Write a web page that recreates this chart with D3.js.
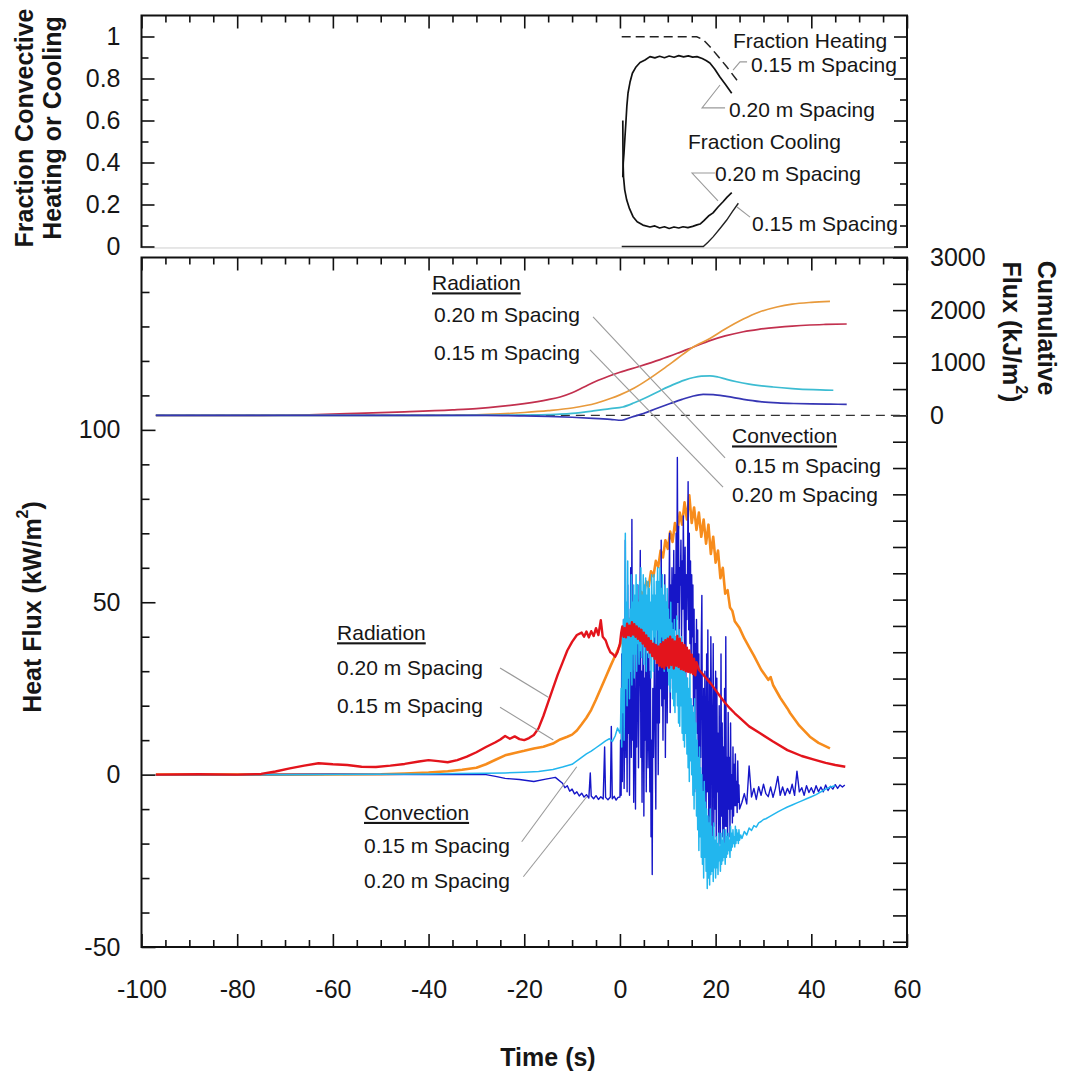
<!DOCTYPE html>
<html><head><meta charset="utf-8">
<script src="https://cdn.jsdelivr.net/npm/d3@7"></script>
<style>
body{margin:0;background:#fff;}
svg text{font-family:"Liberation Sans",Arial,Helvetica,sans-serif;fill:#161616;}
</style></head><body>
<svg id="chart" width="1065" height="1072"></svg>
<script>
// ---------------- DATA ----------------
// tick values
const timeMajor=[-100,-80,-60,-40,-20,0,20,40,60];
const timeMinor=[-95,-90,-85,-75,-70,-65,-55,-50,-45,-35,-30,-25,-15,-10,-5,5,10,15,25,30,35,45,50,55];
const fluxMajor=[-50,0,50,100];
const fluxMinor=[-40,-30,-20,-10,10,20,30,40,60,70,80,90,110,120,130,140];
const cumTicks=[-10000,-9500,-9000,-8500,-8000,-7500,-7000,-6500,-6000,-5500,-5000,-4500,-4000,-3500,-3000,-2500,-2000,-1500,-1000,-500,0,500,1000,1500,2000,2500,3000];
const cumLabels=[0,1000,2000,3000];
const fracMajor=[0,0.2,0.4,0.6,0.8,1];
const fracMinor=[0.1,0.3,0.5,0.7,0.9];

// top panel: fraction of convective heating / cooling  [time s, fraction]
const heating015=[[0.37,0.999],[16.05,0.999],[17.4,0.985],[18.83,0.951],[20.5,0.906],[22.32,0.856],[24.69,0.785]];
const heating020=[[0.6,0.33],[0.7,0.40],[0.85,0.445],[1.05,0.52],[1.27,0.60],[1.45,0.67],[1.69,0.731],[2.1,0.782],[2.6,0.825],[3.36,0.855],[4.2,0.876],[5.24,0.888],[6.28,0.904],[7.3,0.898],[8.3,0.906],[9.3,0.899],[10.3,0.907],[11.3,0.901],[12.3,0.909],[13.3,0.903],[14.3,0.908],[15.2,0.902],[16.1,0.904],[17.2,0.895],[18.0,0.886],[18.8,0.874],[19.8,0.845],[20.9,0.807],[22.1,0.770],[23.36,0.730]];
const cooling020=[[0.6,0.60],[0.62,0.50],[0.66,0.40],[0.75,0.331],[1.0,0.27],[1.42,0.221],[2.0,0.18],[2.74,0.142],[3.6,0.118],[4.8,0.102],[6.29,0.093],[7.3,0.098],[8.3,0.088],[9.3,0.094],[10.3,0.086],[11.3,0.093],[12.3,0.088],[13.2,0.094],[14.2,0.090],[15.2,0.096],[16.1,0.103],[16.74,0.107],[17.5,0.122],[18.5,0.145],[19.46,0.160],[20.5,0.188],[21.55,0.213],[22.4,0.235],[23.37,0.256]];
const cooling015=[[0.37,0.0],[17.43,0.0],[18.4,0.02],[19.52,0.047],[21.0,0.088],[22.32,0.126],[23.5,0.166],[24.75,0.206]];

// bottom panel: heat flux (kW/m2)  [time s, flux]
const radiation020=[[-97,0],[-88,0.1],[-80,0],[-75,0.2],[-72,0.9],[-69,1.8],[-66,2.6],[-63,3.3],[-60,3.0],[-57,2.8],[-54,2.3],[-51,2.2],[-48,2.6],[-45,3.1],[-42,3.8],[-40,4.2],[-38,3.9],[-36,3.6],[-34,4.2],[-32,5.2],[-30,6.5],[-28,8],[-26,9.4],[-25,10.2],[-24,11.2],[-23,10.4],[-22,11.1],[-21,10.3],[-20,10.0],[-19,10.6],[-18,11.5],[-17,13.5],[-16,17],[-15,21],[-14,25],[-13,29],[-12,32.5],[-11,36],[-10,38.5],[-9,40.5],[-8,41.2],[-7.5,40],[-7,41.5],[-6.5,39.8],[-6,41.6],[-5.5,40.2],[-5,42.5],[-4.5,40.5],[-4,44.8],[-3.6,40],[-3,39],[-2.5,37],[-2,35.5],[-1.5,35],[-1,34.2],[-0.5,35.5],[0,38],[0.25,41],[0.5,43],[0.75,40],[1,42.5],[1.25,39.8],[1.5,43.8],[1.75,40.5],[2,43.2],[2.25,40.2],[2.5,44.2],[2.75,40.6],[3,43.6],[3.25,40],[3.5,43],[3.75,39.4],[4,42.4],[4.25,38.8],[4.5,42],[4.75,38],[5,41.2],[5.25,37.2],[5.5,40.4],[5.75,36.2],[6,39.6],[6.25,35.4],[6.5,38.8],[6.75,34.4],[7,38],[7.25,33.6],[7.5,37.6],[7.75,32.4],[8,37.2],[8.25,31.6],[8.5,37.8],[8.75,31.2],[9,38.4],[9.25,30.8],[9.5,39],[9.75,31.6],[10,39.4],[10.25,31],[10.5,40],[10.75,31.8],[11,39.2],[11.25,30.8],[11.5,38.6],[11.75,31.6],[12,40.2],[12.25,31.2],[12.5,39.4],[12.75,30.6],[13,38.2],[13.25,30.4],[13.5,37.6],[13.75,30],[14,36.8],[14.25,29.8],[14.5,36],[14.75,29.6],[15,34.8],[15.25,29.2],[15.5,33.6],[15.75,28.8],[16,32.6],[16.5,30.4],[17,29.6],[17.5,28.8],[18,28],[19,26.4],[20,24.5],[21,22.6],[22,20.8],[23,19.2],[24,17.8],[25,16.5],[27,14],[29.3,12],[32,9.6],[35,7.1],[38,5.4],[40.4,4.4],[43,3.4],[45,2.8],[47.1,2.3]];
const radiation015=[[-97,0],[-70,0],[-50,0.1],[-45,0.3],[-40,0.6],[-36,1],[-33,1.4],[-30,2],[-28,3],[-26,4.3],[-24,5.6],[-22,6.3],[-20,6.9],[-18,7.6],[-16,8.1],[-14,9],[-12.5,10.2],[-11,11],[-10,11.6],[-9,12.8],[-8,14.6],[-7,16.5],[-6,18.8],[-5,21.8],[-4,25],[-3,28.2],[-2,31.4],[-1,34.5],[0,37.5],[0.5,39.5],[1,41],[1.5,43],[2,44.5],[2.5,46.2],[3,47.5],[3.5,50],[4,49.2],[4.5,53],[5,52],[5.5,56],[6,54.5],[6.5,59],[7,57.5],[7.5,62],[8,60.2],[8.5,65],[9,63],[9.5,68],[10,65.5],[10.5,70.5],[11,67.5],[11.5,73],[12,70],[12.5,76],[13,72.5],[13.5,79],[14,74],[14.5,81],[15,73],[15.5,77.5],[16,71],[16.5,76],[17,69],[17.5,74],[18,67],[18.5,72.5],[19,64],[19.5,69],[20,61.5],[20.5,65],[21,57],[21.5,60],[22,52.5],[22.5,53.5],[23,48.5],[23.5,47.5],[24,44.5],[25,42.5],[26,39.5],[27,37],[28,34.5],[29.5,30.5],[31,27.5],[31.5,28.3],[32,26],[33.5,22.3],[35,19.2],[35.6,17.8],[37.5,14.2],[39.7,11],[41.5,9.2],[43.9,7.6]];

// convection, 0.15 m spacing (cyan): before, noisy burst (every 0.125 s from 0.125 s), after
const convection015Before=[[-97,0],[-70,0],[-50,0.1],[-40,0.2],[-34,0.3],[-28,0.4],[-24,0.5],[-20,0.7],[-17,0.9],[-14,1.5],[-12,2.2],[-10,3],[-8.5,4.5],[-7,6],[-6,6.8],[-5,7.8],[-4,8.8],[-3,9.8],[-2.2,10.4],[-1.6,9.6],[-1,11.2],[-0.5,13.5],[0,12]];
const convection015Burst=[
 14,25,8,40,18,45,10,30,   70,25,50,20,62,28,45,22,   48,30,58,26,50,35,55,28,   52,35,58,30,55,38,50,32,
 56,36,60,34,52,40,58,32,  55,38,57,30,52,40,56,34,   54,38,50,28,58,42,52,30,   58,40,52,35,56,42,60,36,
 56,36,60,38,54,40,58,36,  52,30,55,34,50,32,54,30,   48,26,45,24,50,28,44,22,   42,20,45,18,40,24,46,20,
 38,15,42,14,36,20,40,12,  35,10,30,8,33,12,28,6,     28,2,25,-2,30,4,22,0,      20,-6,18,-10,22,-4,15,-12,
 10,-16,5,-22,8,-18,2,-24, 0,-26,-5,-30,-2,-24,-8,-28, -10,-33,-12,-30,-14,-32,-10,-29, -15,-28,-18,-31,-14,-27,-19,-30,
 -18,-27,-20,-29,-17,-25,-21,-28, -17,-26,-19,-25,-16,-24,-20,-26, -16,-24,-18,-23,-17,-22,-19,-24, -15,-22,-17,-21,-16,-20,-18,-21,
 -15,-20,-16,-19,-17,-20,-16,-19];
const convection015After=[[25.25,-17.5],[25.5,-18.5],[26,-16.5],[26.5,-17.5],[27,-15.5],[27.5,-16.2],[28,-14.8],[28.5,-15.2],[29,-14],[29.5,-13.6],[30,-13],[30.5,-12.8],[31,-12.4],[32,-11.6],[33,-10.8],[34,-10.1],[35,-9.4],[36,-8.8],[37,-8.2],[38,-7.6],[39,-7],[40,-6.4],[41,-5.8],[42,-5],[43,-4.2],[44,-3.6],[45,-3.2]];

// convection, 0.20 m spacing (dark blue)
const convection020Before=[[-97,0],[-80,0],[-60,0.1],[-40,0],[-28,0],[-26,-0.5],[-24,-1.1],[-21,-1.4],[-18,-2],[-15.5,-1.3],[-13.5,-0.8],[-12,-2.5],[-11.5,-3.8],[-11,-3.2],[-10.5,-4.8],[-10,-4.2],[-9.5,-5.6],[-9,-5],[-8.5,-6.2],[-8,-5.4],[-7.5,-6.5],[-7,-5.8],[-6.5,-6.8],[-6.2,0.5],[-6,-6.2],[-5.5,-7],[-5,-6.1],[-4.5,-7.2],[-4,-6.4],[-3.5,-7.1],[-3.2,8],[-3,-6.6],[-2.5,-7.3],[-2,-6.5],[-1.8,14],[-1.6,-7],[-1.2,-6.3],[-0.8,-7.4],[-0.4,-6.6],[0,-6.5]];
const convection020Burst=[
 10,-6,35,-2,20,45,-4,15,   68,5,30,-5,55,12,40,-6,    25,60,5,74,10,38,-8,30,    15,-10,40,8,28,55,2,22,
 35,65,5,30,-8,25,48,-12,   28,10,42,-5,20,35,2,45,    18,-5,30,-18,10,-29,25,5,  22,40,8,-10,32,15,45,0,
 30,15,50,25,68,20,40,10,   45,22,58,5,38,50,15,42,    30,50,70,18,55,35,60,25,   48,65,35,58,42,70,45,92,
 50,72,40,60,55,68,38,62,   48,75,55,35,66,20,58,45,   60,85,42,70,38,62,30,58,   40,55,20,48,-5,38,25,45,
 12,42,-10,35,-15,30,5,38,  52,0,-8,25,-18,30,10,-12,  35,-5,42,0,-20,28,-12,40,  20,-22,10,38,-15,25,-10,30,
 -18,28,-5,12,-22,20,-8,-20, 35,-12,15,-18,8,-22,25,-15, 40,-15,5,-20,18,-10,5,-18, 15,-10,0,-14,8,-12,3,-9,
 6,-9,-2,-11,4,-8,-3,-10];
const convection020After=[[25.5,-8],[26,-5.5],[26.5,-8.5],[27,2.5],[27.5,-6.5],[28,-4],[28.5,-7.2],[29,-3.5],[29.5,-6],[30,-2.8],[30.5,-5.5],[31,-6.4],[31.5,-3.6],[32,-6.6],[32.5,-4],[33,-0.5],[33.5,-6],[34,-3.6],[34.5,-6],[35,-4],[35.5,-5.5],[36,-2.8],[36.5,-6],[37,1],[37.5,-5],[38,-3.8],[38.5,-6],[39,-3.2],[39.5,-5.2],[40,-3.8],[40.5,-5.4],[41,-3.2],[41.5,-5],[42,-3.6],[42.5,-5],[43,-3],[43.5,-4.6],[44,-3.4],[44.5,-4.2],[45,-2.9],[45.5,-4],[46,-3],[46.5,-3.6],[47,-3]];
const burstStart=0.125, burstStep=0.125;

// cumulative flux (kJ/m2), right axis  [time s, cumulative]
const cumRadiation020=[[-97,0],[-75,0],[-65,12],[-55,38],[-45,68],[-35,105],[-30,130],[-25,170],[-20,225],[-15,300],[-12.5,350],[-10,430],[-7.5,540],[-5,650],[-2.5,740],[0,820],[4,930],[8.4,1060],[12,1180],[15.4,1300],[18.8,1420],[22,1510],[25.8,1590],[29,1635],[32.8,1673],[36,1698],[39.7,1718],[43,1728],[47.4,1737]];
const cumRadiation015=[[-97,0],[-40,0],[-35,3],[-30,10],[-25,28],[-20,55],[-15,90],[-10,140],[-5,230],[-2,320],[0,390],[3,520],[6,690],[9,880],[12,1080],[15,1280],[18.8,1460],[22,1640],[25.8,1830],[29,1960],[32.8,2060],[36,2115],[40,2148],[43.9,2165]];
const cumConvection015=[[-97,0],[-35,0],[-25,5],[-15,15],[-12.5,25],[-10,40],[-5.6,85],[-2,130],[0.6,160],[3,240],[5.5,340],[8.4,470],[11,580],[13.5,670],[15.4,720],[17,745],[18.8,752],[20.5,730],[22.3,685],[24.4,640],[27,595],[32,540],[36,510],[40.4,488],[43,480],[44.6,478]];
const cumConvection020=[[-97,0],[-28,0],[-20,-10],[-15,-20],[-10,-35],[-5.6,-55],[-2,-75],[0.4,-92],[2.5,-30],[4.9,35],[7.5,125],[10.5,225],[13,305],[15,360],[17.4,400],[19.5,395],[22.3,360],[25.8,305],[29.3,262],[33,238],[36.3,226],[40,218],[44,213],[47.4,210]];

// annotations in data coordinates
const topLabels=[
 {t:23.64,f:0.979,text:"Fraction Heating"},
 {t:27.4,f:0.864,text:"0.15 m Spacing"},
 {t:22.8,f:0.650,text:"0.20 m Spacing"},
 {t:14.23,f:0.498,text:"Fraction Cooling"},
 {t:19.88,f:0.345,text:"0.20 m Spacing"},
 {t:27.6,f:0.107,text:"0.15 m Spacing"}];
const topLeaders=[
 [[26.57,0.879],[25.1,0.879],[23.64,0.840]],
 [[21.97,0.660],[17.16,0.660],[20.92,0.769]],
 [[19.88,0.350],[15.07,0.350],[20.5,0.217]],
 [[24.48,0.188],[27.2,0.140]]];
const fluxLabels=[
 {t:-39.28,v:142.6,text:"Radiation",u:true},
 {t:-38.86,v:133.3,text:"0.20 m Spacing"},
 {t:-38.86,v:122.3,text:"0.15 m Spacing"},
 {t:23.43,v:98.2,text:"Convection",u:true},
 {t:24.06,v:89.5,text:"0.15 m Spacing"},
 {t:23.43,v:81.1,text:"0.20 m Spacing"},
 {t:-59.13,v:41.1,text:"Radiation",u:true},
 {t:-59.13,v:30.9,text:"0.20 m Spacing"},
 {t:-59.13,v:19.9,text:"0.15 m Spacing"},
 {t:-53.49,v:-11.0,text:"Convection",u:true},
 {t:-53.49,v:-20.6,text:"0.15 m Spacing"},
 {t:-53.49,v:-30.8,text:"0.20 m Spacing"}];
const fluxLeaders=[
 [[-5.62,132.75],[21.97,91.85]],
 [[-6.25,123.2],[21.55,83.4]],
 [[-25.06,30.95],[-14.97,22.43]],
 [[-25.06,19.52],[-13.92,10.04]],
 [[-20.53,-19.47],[-9.03,2.29]],
 [[-20.19,-29.62],[-6.94,-6.41]]];

// ---------------- DRAWING ----------------
const svg=d3.select("#chart");
const x=d3.scaleLinear([-100,60],[141.5,907]);
const yTop=d3.scaleLinear([0,1.1],[246.5,15.5]);
const yF=d3.scaleLinear([-50,150],[947,257.5]);
const yC=d3.scaleLinear([-10100,3000],[947,257.5]);
const FONT='"Liberation Sans",Arial,Helvetica,sans-serif';

const withBurst=(before,burst,after)=>before.concat(burst.map((v,i)=>[burstStart+i*burstStep,v])).concat(after);
const convection015=withBurst(convection015Before,convection015Burst,convection015After);
const convection020=withBurst(convection020Before,convection020Burst,convection020After);

svg.append("defs").append("clipPath").attr("id","clipB").append("rect")
  .attr("x",x(-100)).attr("y",yF(150)).attr("width",x(60)-x(-100)).attr("height",yF(-50)-yF(150));

// frames
svg.append("rect").attr("x",x(-100)).attr("y",yF(150)).attr("width",x(60)-x(-100)).attr("height",yF(-50)-yF(150))
  .attr("fill","none").attr("stroke","#111").attr("stroke-width",2);
svg.append("path").attr("d",`M${x(-100)},${yTop(-0.007)}V${yTop(1.1)}H${x(60)}V${yTop(-0.007)}`)
  .attr("fill","none").attr("stroke","#111").attr("stroke-width",2);
svg.append("line").attr("x1",x(-100)).attr("x2",x(60)).attr("y1",yTop(-0.007)).attr("y2",yTop(-0.007))
  .attr("stroke","#cfcfcf").attr("stroke-width",1);

function axis(gen,scale,vals,size,tx,ty,fmt,pad){
  const a=gen(scale).tickValues(vals).tickSizeInner(size).tickSizeOuter(0).tickPadding(pad||0)
    .tickFormat(fmt||(()=>""));
  const g=svg.append("g").attr("transform",`translate(${tx},${ty})`).call(a);
  g.attr("font-family",FONT).attr("font-size",25);
  g.select(".domain").remove();
  g.selectAll(".tick line").attr("stroke","#111").attr("stroke-width",1.6);
  g.selectAll(".tick text").attr("fill","#161616");
  return g;
}
// bottom panel
axis(d3.axisBottom,x,timeMinor,-7,0,yF(-50));
axis(d3.axisBottom,x,timeMajor,-13,0,yF(-50),d=>d,33);
axis(d3.axisTop,x,timeMinor,-7,0,yF(150));
axis(d3.axisTop,x,timeMajor,-13,0,yF(150));
axis(d3.axisLeft,yF,fluxMinor,-8,x(-100),0);
axis(d3.axisLeft,yF,fluxMajor,-14,x(-100),0,d=>d,21);
axis(d3.axisRight,yC,cumTicks,-14,x(60),0,d=>cumLabels.includes(d)?d:"",23);
// top panel
axis(d3.axisTop,x,timeMinor,-7,0,yTop(1.1));
axis(d3.axisTop,x,timeMajor,-13,0,yTop(1.1));
axis(d3.axisLeft,yTop,fracMinor,-7,x(-100),0);
axis(d3.axisLeft,yTop,fracMajor,-13,x(-100),0,d=>d===0?"0":d===1?"1":d3.format(".1f")(d),21);
axis(d3.axisRight,yTop,fracMinor,-7,x(60),0);
axis(d3.axisRight,yTop,fracMajor,-13,x(60),0);

// top panel lines
const lineT=d3.line().x(d=>x(d[0])).y(d=>yTop(d[1]));
const gT=svg.append("g").attr("fill","none");
gT.append("path").attr("d",lineT(heating015)).attr("stroke","#222").attr("stroke-width",1.5).attr("stroke-dasharray","9,5");
gT.append("path").attr("d",lineT(heating020)).attr("stroke","#111").attr("stroke-width",1.7).attr("stroke-linejoin","round");
gT.append("path").attr("d",lineT(cooling020)).attr("stroke","#111").attr("stroke-width",1.7).attr("stroke-linejoin","round");
gT.append("path").attr("d",lineT(cooling015)).attr("stroke","#222").attr("stroke-width",1.4);
topLeaders.forEach(l=>gT.append("path").attr("d",lineT(l)).attr("stroke","#9a9a9a").attr("stroke-width",1.1));
topLabels.forEach(d=>svg.append("text").attr("x",x(d.t)).attr("y",yTop(d.f)).attr("dy","0.35em")
  .attr("font-size",21).text(d.text));

// bottom panel lines
const lineF=d3.line().x(d=>x(d[0])).y(d=>yF(d[1]));
const lineC=d3.line().x(d=>x(d[0])).y(d=>yC(d[1])).curve(d3.curveMonotoneX);
const gB=svg.append("g").attr("clip-path","url(#clipB)").attr("fill","none").attr("stroke-linejoin","round");
gB.append("line").attr("x1",x(-97)).attr("x2",x(60)).attr("y1",yC(0)).attr("y2",yC(0))
  .attr("stroke","#333").attr("stroke-width",1.3).attr("stroke-dasharray","9,6");
gB.append("path").attr("d",lineC(cumRadiation020)).attr("stroke","#c2304e").attr("stroke-width",1.7);
gB.append("path").attr("d",lineC(cumRadiation015)).attr("stroke","#e89a3c").attr("stroke-width",1.7);
gB.append("path").attr("d",lineC(cumConvection015)).attr("stroke","#3cbcd2").attr("stroke-width",1.7);
gB.append("path").attr("d",lineC(cumConvection020)).attr("stroke","#3636b4").attr("stroke-width",1.7);

gB.append("path").attr("d",lineF(radiation015)).attr("stroke","#f78c1c").attr("stroke-width",2.6);
gB.append("path").attr("d",lineF(convection020)).attr("stroke","#1616c8").attr("stroke-width",1.4);
gB.append("path").attr("d",lineF(convection015)).attr("stroke","#22b6ee").attr("stroke-width",1.5);
gB.append("path").attr("d",lineF(radiation020)).attr("stroke","#e3141c").attr("stroke-width",2.4);

fluxLeaders.forEach(l=>svg.append("path").attr("d",lineF(l)).attr("fill","none").attr("stroke","#9a9a9a").attr("stroke-width",1.1));
fluxLabels.forEach(d=>svg.append("text").attr("x",x(d.t)).attr("y",yF(d.v)).attr("dy","0.35em")
  .attr("font-size",21).style("text-decoration",d.u?"underline":null).text(d.text));

// axis titles
const bold=(tx,ty,rot)=>svg.append("text").attr("transform",`translate(${tx},${ty}) rotate(${rot})`)
  .attr("text-anchor","middle").attr("dominant-baseline","central").attr("font-size",25).attr("font-weight","bold");
bold(548,1057,0).text("Time (s)");
const hf=bold(32,607,-90); hf.append("tspan").text("Heat Flux (kW/m");
hf.append("tspan").attr("dy",-10).attr("font-size",16).text("2"); hf.append("tspan").attr("dy",10).text(")");
bold(24,128,-90).text("Fraction Convective");
bold(52,128,-90).text("Heating or Cooling");
bold(1047,328,90).text("Cumulative");
const cf=bold(1012,332,90); cf.append("tspan").text("Flux (kJ/m");
cf.append("tspan").attr("dy",-10).attr("font-size",16).text("2"); cf.append("tspan").attr("dy",10).text(")");
</script></body></html>
